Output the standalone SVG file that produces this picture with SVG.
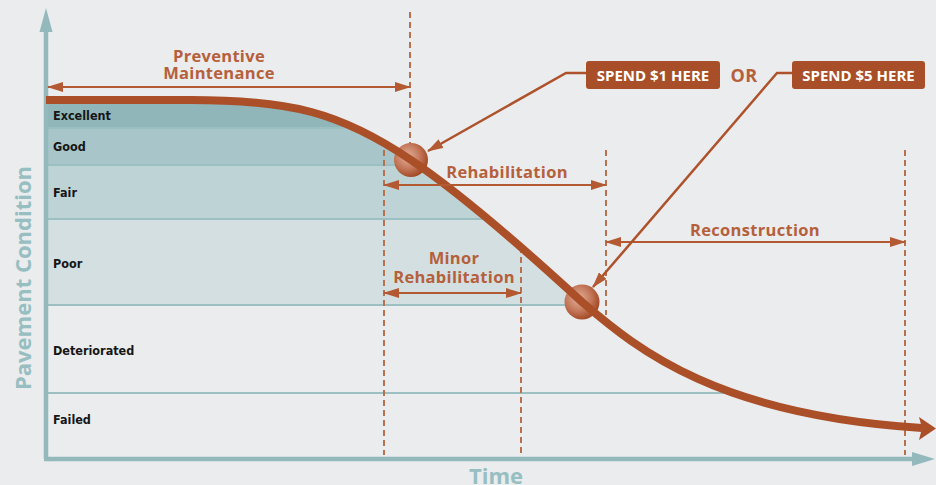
<svg xmlns="http://www.w3.org/2000/svg" width="936" height="485" viewBox="0 0 936 485">
<style>
.band-label{font-family:"Liberation Sans Narrow","DejaVu Sans Condensed","DejaVu Sans",sans-serif;font-weight:bold;font-size:12.5px;fill:#161616;font-stretch:condensed}
.lbl{font-family:"Open Sans","Liberation Sans",sans-serif;font-weight:bold;font-size:16.5px;fill:#b5603b;text-anchor:middle;letter-spacing:0.3px}
.box-text{font-family:"Open Sans","Liberation Sans",sans-serif;font-weight:bold;font-size:15px;fill:#ffffff;text-anchor:middle}
.axis-label{font-family:"Open Sans","Liberation Sans",sans-serif;font-weight:bold;font-size:22px;fill:#97bec1;text-anchor:middle}
.dash{stroke:#b8714f;stroke-width:2;stroke-dasharray:6 4;fill:none}
.dim{stroke:#b35a33;stroke-width:2;fill:none}
.leader{stroke:#ae522b;stroke-width:2.5;fill:none}
.sep{stroke:#9cbfc2;stroke-width:2}
.box{fill:#a84f2a}
.axis{stroke:#93b9bc;stroke-width:4.5;fill:none}
</style>
<defs>
<marker id="ah" viewBox="0 0 16 10" refX="15" refY="5" markerWidth="16" markerHeight="10" markerUnits="userSpaceOnUse" orient="auto-start-reverse">
<path d="M0,0 L16,5 L0,10 Z" fill="#b35a33"/>
</marker>
<radialGradient id="ball" cx="0.4" cy="0.4" r="0.6">
<stop offset="0" stop-color="#e2b29c"/>
<stop offset="0.6" stop-color="#c4785a"/>
<stop offset="1" stop-color="#a44c28"/>
</radialGradient>
<clipPath id="under">
<path d="M46,100 L190,100 C290,100 340,112 411,160 C460,193 532,256 582,302 C640,352 720,415 922,428 L936,428 L936,470 L46,470 Z"/>
</clipPath>
</defs>

<rect x="0" y="0" width="936" height="485" fill="#eaecee"/>

<g id="bands" clip-path="url(#under)">
<rect x="48" y="102" width="888" height="26" fill="#90b6b9"/>
<rect x="48" y="128" width="888" height="37" fill="#a8c6c9"/>
<rect x="48" y="165" width="888" height="54" fill="#bed3d5"/>
<rect x="48" y="219" width="888" height="86" fill="#d3dfe0"/>
<line class="sep" x1="48" y1="128" x2="936" y2="128"/>
<line class="sep" x1="48" y1="165" x2="936" y2="165"/>
<line class="sep" x1="48" y1="219" x2="936" y2="219"/>
<line class="sep" x1="48" y1="305" x2="936" y2="305"/>
<line class="sep" x1="48" y1="393" x2="936" y2="393"/>
</g>

<g id="band-labels">
<text class="band-label" x="53" y="120">Excellent</text>
<text class="band-label" x="53" y="151">Good</text>
<text class="band-label" x="53" y="197">Fair</text>
<text class="band-label" x="53" y="268">Poor</text>
<text class="band-label" x="53" y="355">Deteriorated</text>
<text class="band-label" x="53" y="424">Failed</text>
</g>

<g id="axes">
<line class="axis" x1="46" y1="459" x2="46" y2="28"/>
<polygon points="46,8 39.5,32 52.5,32" fill="#93b9bc"/>
<line class="axis" x1="44" y1="459" x2="914" y2="459"/>
<polygon points="935,459 912,452 912,466" fill="#93b9bc"/>
<text class="axis-label" transform="translate(31,278) rotate(-90)">Pavement Condition</text>
<text class="axis-label" x="496" y="483.5">Time</text>
</g>

<g id="dashed-lines">
<line class="dash" x1="410" y1="12" x2="410" y2="146"/>
<line class="dash" x1="384" y1="150" x2="384" y2="455"/>
<line class="dash" x1="521" y1="247" x2="521" y2="455"/>
<line class="dash" x1="606" y1="150" x2="606" y2="315"/>
<line class="dash" x1="905" y1="150" x2="905" y2="455"/>
</g>

<g id="circles">
<circle cx="411" cy="160" r="17" fill="url(#ball)"/>
<circle cx="582" cy="302" r="17.5" fill="url(#ball)"/>
</g>

<g id="curve">
<path d="M46,100 L190,100 C290,100 340,112 411,160 C460,193 532,256 582,302 C640,352 720,415 922,428" stroke="#ab4f28" stroke-width="8" fill="none"/>
<polygon points="936,428.5 919,417 922,428 919,440" fill="#ab4f28"/>
</g>

<g id="connectors">
<line class="dim" x1="48" y1="87" x2="410" y2="87" marker-start="url(#ah)" marker-end="url(#ah)"/>
<line class="dim" x1="384" y1="185" x2="606" y2="185" marker-start="url(#ah)" marker-end="url(#ah)"/>
<line class="dim" x1="384" y1="293" x2="521" y2="293" marker-start="url(#ah)" marker-end="url(#ah)"/>
<line class="dim" x1="606" y1="242" x2="905" y2="242" marker-start="url(#ah)" marker-end="url(#ah)"/>
<polyline class="leader" points="587,73 566,73 428,151" marker-end="url(#ah)"/>
<polyline class="leader" points="792,73 777,73 593,287" marker-end="url(#ah)"/>
</g>

<g id="preventive-maintenance">
<text class="lbl" x="219" y="62">Preventive</text>
<text class="lbl" x="219" y="79">Maintenance</text>
</g>

<g id="rehabilitation">
<text class="lbl" x="507" y="178">Rehabilitation</text>
</g>

<g id="minor-rehabilitation">
<text class="lbl" x="454" y="264">Minor</text>
<text class="lbl" x="454" y="283">Rehabilitation</text>
</g>

<g id="reconstruction">
<text class="lbl" x="755" y="236">Reconstruction</text>
</g>

<g id="spend1">
<rect class="box" x="586" y="61" width="134" height="28" rx="3"/>
<text class="box-text" x="653" y="80.5">SPEND $1 HERE</text>
</g>

<g id="or">
<text class="lbl" x="744" y="82" style="font-size:18px">OR</text>
</g>

<g id="spend5">
<rect class="box" x="792" y="61" width="133" height="28" rx="3"/>
<text class="box-text" x="858.5" y="80.5">SPEND $5 HERE</text>
</g>
</svg>
